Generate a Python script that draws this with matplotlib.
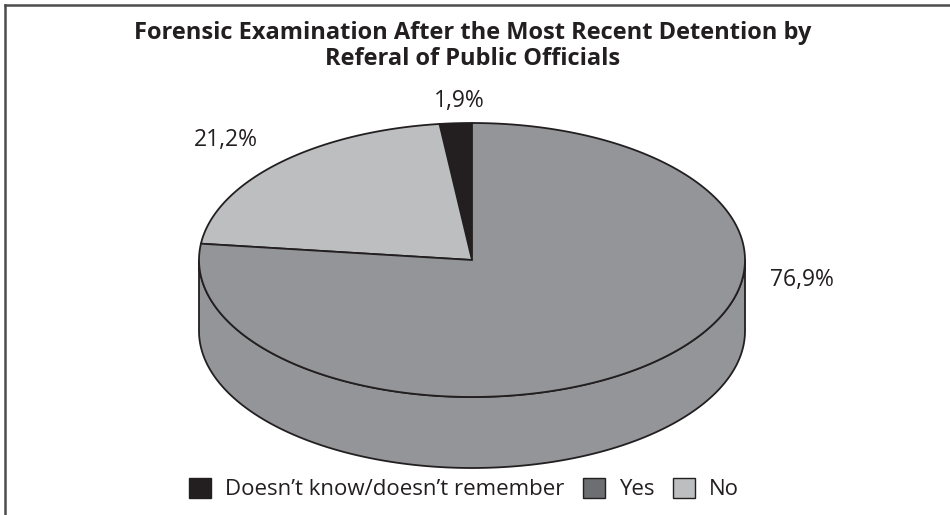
import numpy as np
import matplotlib
matplotlib.use("Agg")
from matplotlib import pyplot
from matplotlib.patches import Polygon, Patch
from matplotlib.lines import Line2D

pyplot.rcParams["font.family"] = ["Open Sans", "DejaVu Sans"]

# slices in drawing order, counter-clockwise from 12 o'clock
categories = ["Doesn’t know/doesn’t remember", "No", "Yes"]
shares = [1.9, 21.2, 76.9]
legend_order = ["Doesn’t know/doesn’t remember", "Yes", "No"]
title = "Forensic Examination After the Most Recent Detention by\nReferal of Public Officials"

top_colors = {"Doesn’t know/doesn’t remember": "#231f20", "Yes": "#939598", "No": "#bcbec0"}
key_colors = {"Doesn’t know/doesn’t remember": "#231f20", "Yes": "#6d6e71", "No": "#bcbec0"}
label_xy = [(459, 101), (226, 140), (802, 280)]

edge = "#231f20"
cx, cy = 472, 260       # centre of the top face (pixels)
rx, ry = 273, 137       # top face half-axes
depth = 71              # height of the cylinder wall


def ellipse_pts(t0, t1, dy=0.0, n=200):
    t = np.radians(np.linspace(t0, t1, n))
    return np.column_stack([cx + rx * np.cos(t), cy - ry * np.sin(t) + dy])


fig = pyplot.figure(figsize=(9.5, 5.15), dpi=100)
ax = fig.add_axes([0, 0, 1, 1])
ax.set_xlim(0, 950)
ax.set_ylim(515, 0)
ax.axis("off")

bounds = 90 + 360 * np.concatenate([[0], np.cumsum(shares)]) / sum(shares)

for name, a, b, (lx, ly), v in zip(categories, bounds[:-1], bounds[1:], label_xy, shares):
    color = top_colors[name]
    # front wall: only the part of the slice facing the viewer (180..360 deg)
    for lo, hi in [(180, 360), (540, 720)]:
        s0, s1 = max(a, lo), min(b, hi)
        if s1 > s0:
            top = ellipse_pts(s0, s1)
            bottom = ellipse_pts(s1, s0, dy=depth)
            ax.add_patch(Polygon(np.vstack([top, bottom]), closed=True,
                                 facecolor=color, edgecolor=edge, lw=1.3,
                                 joinstyle="round", zorder=1))
    face = np.vstack([[cx, cy], ellipse_pts(a, b), [cx, cy]])
    ax.add_patch(Polygon(face, closed=True, facecolor=color, edgecolor=edge,
                         lw=1.3, joinstyle="miter", zorder=2))
    ax.text(lx, ly, f"{v:.1f}".replace(".", ",") + "%", ha="center", va="center",
            fontsize=16.5, color="#231f20")

ax.text(473, 46, title, ha="center", va="center", fontsize=17, fontweight="bold",
        color="#231f20", linespacing=1.08)

handles = [Patch(facecolor=key_colors[n], edgecolor=edge, lw=1.0) for n in legend_order]
fig.legend(handles, legend_order, loc="center", bbox_to_anchor=(464 / 950, 1 - 489 / 515), ncol=3,
           frameon=False, fontsize=16, handlelength=1.0, handleheight=1.0,
           handletextpad=0.65, columnspacing=0.8, labelcolor="#231f20",
           borderpad=0, borderaxespad=0)

# frame lines along the top and left edge
fig.add_artist(Line2D([5 / 950, 1], [1 - 5 / 515, 1 - 5 / 515], color="#4d4d4d", lw=1.8))
fig.add_artist(Line2D([5 / 950, 5 / 950], [0, 1 - 5 / 515], color="#4d4d4d", lw=1.8))

fig.savefig("out.png", dpi=100)
